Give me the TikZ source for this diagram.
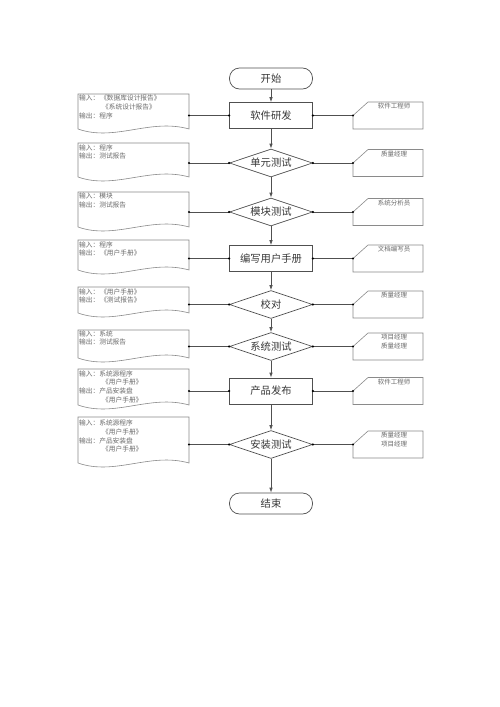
\documentclass[tikz,border=0pt]{standalone}
\usepackage{fontspec}
\setmainfont{Noto Sans CJK SC}
\usetikzlibrary{arrows.meta,shapes.geometric}
\definecolor{mainc}{HTML}{505050}
\definecolor{txtc}{HTML}{383838}
\definecolor{subc}{HTML}{8A8A8A}
\definecolor{subtxt}{HTML}{6A6A6A}
\newcommand{\docshape}[2]{%
  \draw[subline] (78,#1) -- (189,#1) -- (189,#2)
    .. controls (150,{#2-11}) and (115,{#2+13}) .. (78,#2) -- cycle;}
\newcommand{\roleshape}[1]{%
  \draw[subline] (353,#1) -- (368,{#1-13.5}) -- (423,{#1-13.5}) -- (423,{#1+13.5}) -- (353,{#1+13.5}) -- cycle;}
\begin{document}
\begin{tikzpicture}[x=1pt,y=-1pt,
  mainbox/.style={draw=mainc, line width=0.7pt, minimum width=83pt, minimum height=26pt,
    inner sep=0pt, font=\fontsize{10.3}{12}\selectfont, text=txtc},
  termbox/.style={mainbox, rounded corners=10pt, minimum height=21pt},
  diabox/.style={mainbox, diamond, aspect=3, minimum height=28pt},
  subline/.style={draw=subc, line width=0.6pt},
  doctext/.style={anchor=north west, inner sep=0pt, align=left, text=subtxt,
    font=\fontsize{6.7}{8.6}\selectfont},
  roletext/.style={anchor=north, inner sep=0pt, align=center, text=subtxt,
    font=\fontsize{6.5}{9}\selectfont},
  flow/.style={draw=mainc, line width=0.7pt, -{Latex[length=5pt,width=3.5pt]}},
  link/.style={draw=mainc, line width=0.7pt},
  dot/.style={fill=black, draw=none}
]
\useasboundingbox (0,0) rectangle (500,707);
\fill[white] (0,0) rectangle (500,707);

% main column
\node[termbox] (start) at (271,78.5) {开始};
\node[mainbox] (n1) at (271,115.5) {软件研发};
\node[diabox] (n2) at (271,163) {单元测试};
\node[diabox] (n3) at (271,212) {模块测试};
\node[mainbox] (n4) at (271,258.5) {编写用户手册};
\node[diabox] (n5) at (271,304.5) {校对};
\node[diabox] (n6) at (271,346.5) {系统测试};
\node[mainbox] (n7) at (271,391) {产品发布};
\node[diabox] (n8) at (271,444.5) {安装测试};
\node[termbox] (end) at (271,503.5) {结束};

\draw[flow] (start) -- (n1);
\draw[flow] (n1) -- (n2);
\draw[flow] (n2) -- (n3);
\draw[flow] (n3) -- (n4);
\draw[flow] (n4) -- (n5);
\draw[flow] (n5) -- (n6);
\draw[flow] (n6) -- (n7);
\draw[flow] (n7) -- (n8);
\draw[flow] (n8) -- (end);

% documents (left)
\docshape{94}{129}
\docshape{143}{177}
\docshape{192}{227}
\docshape{240}{270}
\docshape{287}{313}
\docshape{330}{358}
\docshape{369}{405}
\docshape{417}{463}

\node[doctext] (t1) at (79,95) {输入：\hspace{1pt}《数据库设计报告》\\\hspace{23pt}《系统设计报告》\\输出：程序};
\node[doctext] (t2) at (79,144.5) {输入：程序\\输出：测试报告};
\node[doctext] (t3) at (79,193) {输入：模块\\输出：测试报告};
\node[doctext] (t4) at (79,241.5) {输入：程序\\输出：\hspace{1pt}《用户手册》};
\node[doctext] (t5) at (79,288.5) {输入：\hspace{1pt}《用户手册》\\输出：\hspace{1pt}《测试报告》};
\node[doctext] (t6) at (79,330.5) {输入：系统\\输出：测试报告};
\node[doctext] (t7) at (79,370.5) {输入：系统源程序\\\hspace{23pt}《用户手册》\\输出：产品安装盘\\\hspace{23pt}《用户手册》};
\node[doctext] (t8) at (79,420) {输入：系统源程序\\\hspace{23pt}《用户手册》\\输出：产品安装盘\\\hspace{23pt}《用户手册》};

\coordinate (d1) at (189,115.5);
\coordinate (d2) at (189,163);
\coordinate (d3) at (189,212);
\coordinate (d4) at (189,258.5);
\coordinate (d5) at (189,304.5);
\coordinate (d6) at (189,346.5);
\coordinate (d7) at (189,391);
\coordinate (d8) at (189,444.5);

% roles (right)
\roleshape{115.5}
\roleshape{163}
\roleshape{212}
\roleshape{258.5}
\roleshape{304.5}
\roleshape{346.5}
\roleshape{391}
\roleshape{444.5}

\node[roletext] (r1t) at (394,103) {软件工程师};
\node[roletext] (r2t) at (394,150.5) {质量经理};
\node[roletext] (r3t) at (394,199.5) {系统分析员};
\node[roletext] (r4t) at (394,246) {文档编写员};
\node[roletext] (r5t) at (394,292) {质量经理};
\node[roletext] (r6t) at (394,334) {项目经理\\质量经理};
\node[roletext] (r7t) at (394,378.5) {软件工程师};
\node[roletext] (r8t) at (394,432) {质量经理\\项目经理};

\coordinate (r1) at (353,115.5);
\coordinate (r2) at (353,163);
\coordinate (r3) at (353,212);
\coordinate (r4) at (353,258.5);
\coordinate (r5) at (353,304.5);
\coordinate (r6) at (353,346.5);
\coordinate (r7) at (353,391);
\coordinate (r8) at (353,444.5);

% links
\foreach \i in {1,...,8} {
  \draw[link] (d\i) -- (n\i.west);
  \draw[link] (n\i.east) -- (r\i);
  \fill[dot] (d\i) circle (1.2pt);
  \fill[dot] (n\i.west) circle (1.2pt);
  \fill[dot] (n\i.east) circle (1.2pt);
  \fill[dot] (r\i) circle (1.2pt);
}
\end{tikzpicture}
\end{document}
